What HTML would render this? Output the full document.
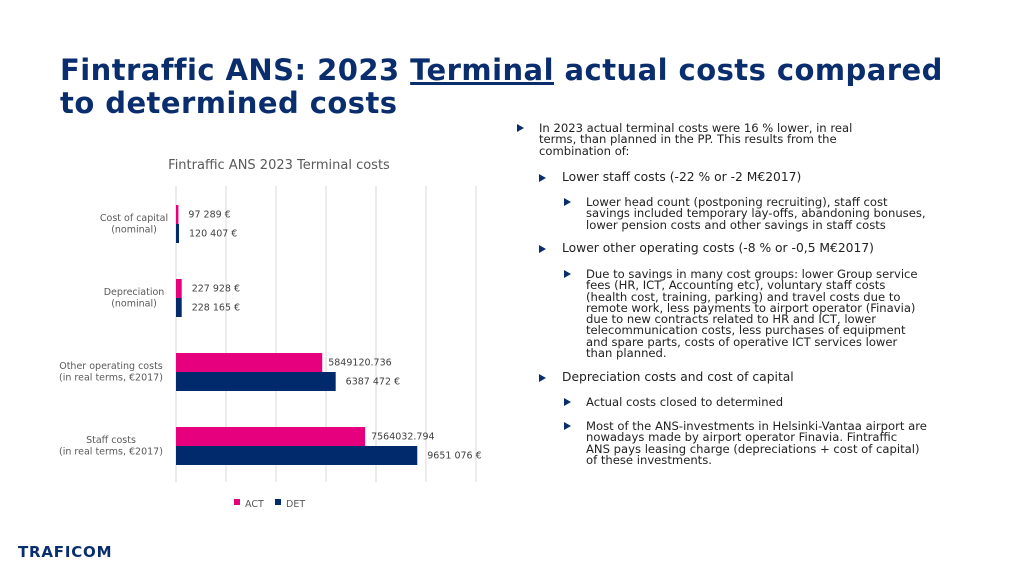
<!DOCTYPE html>
<html><head><meta charset="utf-8"><style>
body{margin:0;width:1024px;height:576px;background:#fff;font-family:"DejaVu Sans","Liberation Sans",sans-serif;position:relative;overflow:hidden}
.title{position:absolute;left:60px;top:54px;font-size:29px;font-weight:bold;color:#0a2d6e;line-height:33px;margin:0;letter-spacing:0.45px}
.title u{text-decoration-thickness:3px}
.b{position:absolute;font-size:11.6px;color:#222;line-height:11.3px}
.b::before{content:"";position:absolute;left:-22px;top:1px;border-left:7px solid #0a2d6e;border-top:4.5px solid transparent;border-bottom:4.5px solid transparent}
.b.l1{font-size:12.3px}
.b.l1::before{left:-23px;top:2px}
</style></head><body>
<h1 class="title">Fintraffic ANS: 2023 <u>Terminal</u> actual costs compared<br>to determined costs</h1>
<div class="b" style="left:539px;top:123px;width:345px">In 2023 actual terminal costs were 16 % lower, in real terms, than planned in the PP. This results from the combination of:</div>
<div class="b l1" style="left:562px;top:172px">Lower staff costs (-22 % or -2 M€2017)</div>
<div class="b" style="left:586px;top:197px;width:340px">Lower head count (postponing recruiting), staff cost savings included temporary lay-offs, abandoning bonuses, lower pension costs and other savings in staff costs</div>
<div class="b l1" style="left:562px;top:243px">Lower other operating costs (-8 % or -0,5 M€2017)</div>
<div class="b" style="left:586px;top:269px;width:340px">Due to savings in many cost groups: lower Group service fees (HR, ICT, Accounting etc), voluntary staff costs (health cost, training, parking) and travel costs due to remote work, less payments to airport operator (Finavia) due to new contracts related to HR and ICT, lower telecommunication costs, less purchases of equipment and spare parts, costs of operative ICT services lower than planned.</div>
<div class="b l1" style="left:562px;top:372px">Depreciation costs and cost of capital</div>
<div class="b" style="left:586px;top:397px">Actual costs closed to determined</div>
<div class="b" style="left:586px;top:421px;width:345px">Most of the ANS-investments in Helsinki-Vantaa airport are nowadays made by airport operator Finavia. Fintraffic<br>ANS pays leasing charge (depreciations + cost of capital) of these investments.</div>
<svg id="chart" width="520" height="400" style="position:absolute;left:0;top:150px" font-family="DejaVu Sans, sans-serif">
<text x="279" y="19" text-anchor="middle" font-size="13" fill="#595959">Fintraffic ANS 2023 Terminal costs</text>
</svg>
<div style="position:absolute;left:18px;top:543px;font-size:15px;font-weight:bold;color:#0a2d6e;letter-spacing:0.8px">TRAFICOM</div>
<script>
const categories=["Cost of capital|(nominal)","Depreciation|(nominal)","Other operating costs|(in real terms, €2017)","Staff costs|(in real terms, €2017)"];
const actValues=[97289,227928,5849120.736,7564032.794];
const detValues=[120407,228165,6387472,9651076];
const actLabels=["97 289 €","227 928 €","5849120.736","7564032.794"];
const detLabels=["120 407 €","228 165 €","6387 472 €","9651 076 €"];
const ticks=[0,2e6,4e6,6e6,8e6,10e6,12e6];
const svg=document.getElementById('chart');const NS='http://www.w3.org/2000/svg';
const x0=176,xmax=12e6,w=300,top0=36,bot=332;
const xs=v=>x0+v/xmax*w;
const bandH=(bot-top0)/categories.length;
function mk(t,a){const e=document.createElementNS(NS,t);for(const k in a)e.setAttribute(k,a[k]);svg.appendChild(e);return e;}
ticks.forEach(t=>{const g=mk('line',{x1:xs(t),x2:xs(t),y1:top0,y2:bot,stroke:'#d9d9d9'});

});
categories.forEach((c,i)=>{const cy=top0+bandH*(i+0.5)+1;const bh=19;
const r1=mk('rect',{x:x0,y:cy-bh,width:xs(actValues[i])-x0,height:bh,fill:'#e6007e'});


const r2=mk('rect',{x:x0,y:cy,width:xs(detValues[i])-x0,height:bh,fill:'#002a6c'});


const t1=mk('text',{x:xs(actValues[i])+(i<2?10:6),y:cy-bh/2+3,'font-size':9.5,fill:'#404040'});t1.textContent=actLabels[i];


const t2=mk('text',{x:xs(detValues[i])+(i<2?10:10),y:cy+bh/2+3,'font-size':9.5,fill:'#404040'});t2.textContent=detLabels[i];


c.split('|').forEach((s,j)=>{const t=mk('text',{x:(i<2?134:111),y:cy-3+j*11.5,'text-anchor':'middle','font-size':9.5,fill:'#595959'});t.textContent=s;

});
});
[['ACT','#e6007e',234],['DET','#002a6c',275]].forEach(([n,c,x])=>{
const r=mk('rect',{x:x,y:349,width:6,height:6,fill:c});


const t=mk('text',{x:x+11,y:357,'font-size':9.5,fill:'#595959'});t.textContent=n;

});
</script>
</body></html>
